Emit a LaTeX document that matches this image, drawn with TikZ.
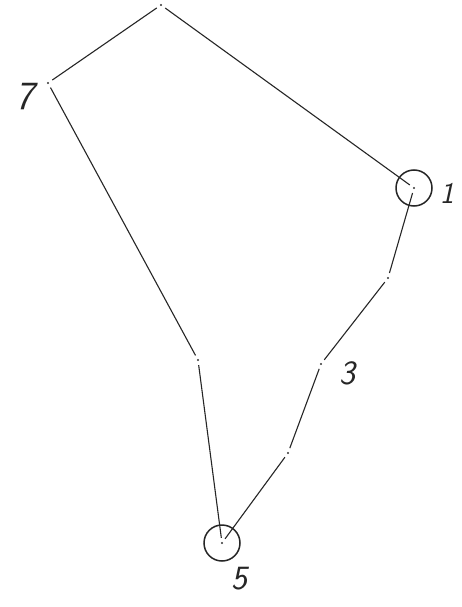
\documentclass[tikz,border=0pt]{standalone}
\begin{document}
\begin{tikzpicture}[x=1pt,y=-1pt,
  pt/.style={circle,inner sep=0pt,minimum size=10pt},
  ring/.style={circle,draw=black!85,line width=1.5pt,inner sep=0pt,minimum size=36pt},
  edge/.style={draw=black!85,line width=1.1pt},
  lbl/.style={inner sep=0pt,font=\fontsize{34}{34}\selectfont\sffamily\slshape,text=black!85}]
\useasboundingbox (0,0) rectangle (462,607);
\fill[white] (0,0) rectangle (462,607);
% vertices
\node[pt] (t) at (161,5) {};
\node[pt] (p7) at (48,83) {};
\node[pt] (p1) at (414,188) {};
\node[pt] (q) at (388,278) {};
\node[pt] (r) at (321,364) {};
\node[pt] (s) at (288,453) {};
\node[pt] (p5) at (222,543) {};
\node[pt] (u) at (198,360) {};
\node[ring] (c1) at (p1) {};
\node[ring] (c5) at (p5) {};
\foreach \n in {t,p7,p1,q,r,s,p5,u} \fill[black!80] (\n) circle (1.1pt);
% edges
\path[edge] (t) -- (p7);
\path[edge] (t) -- (p1);
\path[edge] (p1) -- (q);
\path[edge] (q) -- (r);
\path[edge] (r) -- (s);
\path[edge] (s) -- (p5);
\path[edge] (p5) -- (u);
\path[edge] (u) -- (p7);
% labels
\node[lbl,font=\fontsize{40}{40}\selectfont\sffamily\slshape] (l7) at (25,97) {7};
\node[lbl,font=\fontsize{30}{30}\selectfont\sffamily\slshape] (l1) at (447,193) {1};
\node[lbl] (l3) at (347,373) {3};
\node[lbl] (l5) at (239,579) {5};
\end{tikzpicture}
\end{document}
